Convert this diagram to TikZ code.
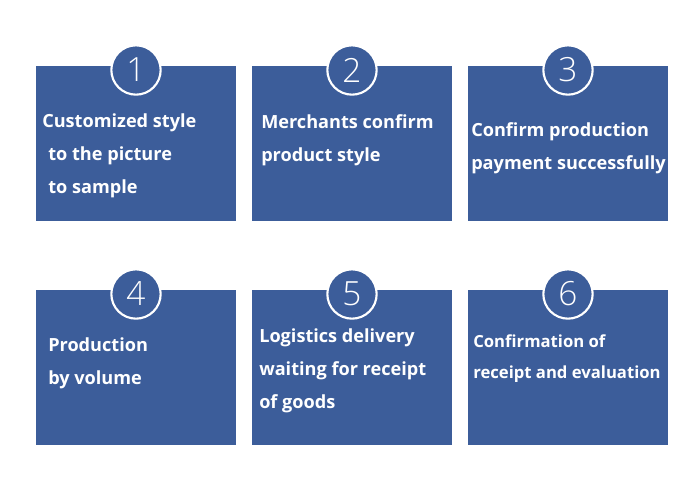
\documentclass[tikz,border=0pt]{standalone}
\usepackage{fontspec}
\setmainfont{Open Sans}
\newfontfamily\numfont{Open Sans Light}
\usepackage{tikz}
\usetikzlibrary{positioning}

\definecolor{stepblue}{RGB}{60,93,154}

\begin{document}
\begin{tikzpicture}[x=0.75pt, y=-0.75pt,
        stepbox/.style={fill=stepblue, minimum width=150pt, minimum height=116.25pt, anchor=north west, inner sep=0pt, outer sep=0pt},
        stepnum/.style={circle, fill=stepblue, draw=white, line width=1.6pt, minimum size=37pt, inner sep=0pt, text=white, font=\numfont\fontsize{25}{25}\selectfont},
        steptext/.style={text=white, align=left, anchor=base west, inner sep=0pt, font=\fontsize{13.6}{24.75}\selectfont\bfseries}]
        \useasboundingbox (0,0) rectangle (690,491);

        % top row
        \node (box1) [stepbox] at (36,66) {};
        \node (box2) [stepbox] at (252,66) {};
        \node (box3) [stepbox] at (468,66) {};
        % bottom row
        \node (box4) [stepbox] at (36,290) {};
        \node (box5) [stepbox] at (252,290) {};
        \node (box6) [stepbox] at (468,290) {};

        \node (num1) [stepnum] at ([yshift=-3pt]box1.north) {1};
        \node (num2) [stepnum] at ([yshift=-3pt]box2.north) {2};
        \node (num3) [stepnum] at ([yshift=-3pt]box3.north) {3};
        \node (num4) [stepnum] at ([yshift=-3pt]box4.north) {4};
        \node (num5) [stepnum] at ([yshift=-3pt]box5.north) {5};
        \node (num6) [stepnum] at ([yshift=-3pt]box6.north) {6};

        % anchored at the baseline of the last line
        \node (text1) [steptext] at (42,194) {Customized style \\ \hspace{4.5pt}to the picture \\ \hspace{4.5pt}to sample};
        \node (text2) [steptext] at (261,161.7) {Merchants confirm \\ product style};
        \node (text3) [steptext] at (471,169.3) {Confirm production \\ payment successfully};
        \node (text4) [steptext] at (48,385) {Production \\ by volume};
        \node (text5) [steptext] at (259,408.3) {Logistics delivery \\ waiting for receipt \\ of goods};
        \node (text6) [steptext, font=\fontsize{12.5}{23.25}\selectfont\bfseries] at (473,379) {Confirmation of \\ receipt and evaluation};
    \end{tikzpicture}
\end{document}
